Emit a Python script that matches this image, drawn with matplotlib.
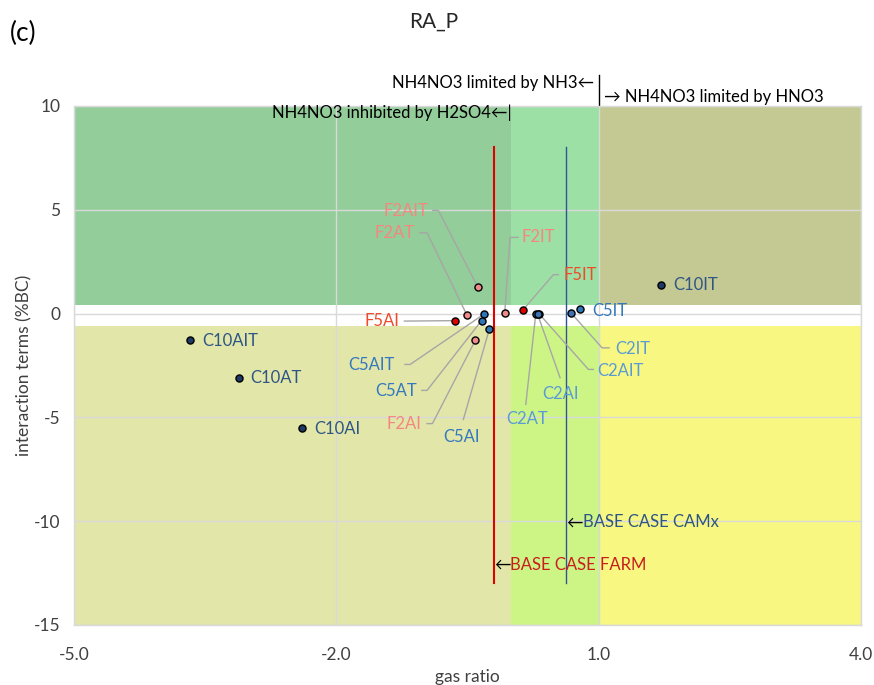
import matplotlib
matplotlib.use("Agg")
import matplotlib.pyplot as plt
from matplotlib.patches import Rectangle

plt.rcParams['font.family'] = ['Lato', 'DejaVu Sans']
plt.rcParams['axes.unicode_minus'] = False

# ---- data -------------------------------------------------------------
labels = ["C10AIT", "C10AT", "C10AI", "C10IT",
          "C5AIT", "C5AT", "C5AI", "C5IT",
          "C2AIT", "C2AT", "C2AI", "C2IT",
          "F2AIT", "F2AT", "F2AI", "F2IT",
          "F5AI", "F5IT"]
gas_ratio = [-3.67, -3.11, -2.39, 1.71,
             -0.31, -0.34, -0.25, 0.79,
             0.32, 0.28, 0.30, 0.68,
             -0.38, -0.51, -0.41, -0.075,
             -0.64, 0.13]
interaction = [-1.28, -3.08, -5.53, 1.39,
               -0.02, -0.34, -0.74, 0.20,
               -0.02, -0.02, -0.02, 0.05,
               1.26, -0.05, -1.28, 0.02,
               -0.34, 0.16]

base_farm = -0.2      # gas ratio of the FARM base case
base_camx = 0.63      # gas ratio of the CAMx base case
regime_edges = [0.0, 1.0]   # gas-ratio boundaries between regimes
band = [-0.6, 0.4]          # neutral band of interaction terms

x_ticks = [-5.0, -2.0, 1.0, 4.0]
y_ticks = [-15, -10, -5, 0, 5, 10]

# ---- styles -----------------------------------------------------------
group_style = {
    "C10": dict(face="#1F3864", text="#2E5584"),
    "C5": dict(face="#2E75B6", text="#3478BE"),
    "C2": dict(face="#3E72B0", text="#5B9BD5"),
    "F2": dict(face="#EE8A8A", text="#F4877F"),
    "F5": dict(face="#E00000", text="#EE4B2B"),
}

def group_of(name):
    return name[:3] if name.startswith("C10") else name[:2]

# label layout: text anchor (x, y), alignment, leader path before the point
label_layout = {
    "C10AIT": (-3.53, -1.33, "left", None),
    "C10AT": (-2.99, -3.12, "left", None),
    "C10AI": (-2.25, -5.54, "left", None),
    "C10IT": (1.85, 1.39, "left", None),
    "C5IT": (0.93, 0.11, "left", None),
    "F2AIT": (-0.95, 4.93, "right", [(-0.898, 4.97), (-0.834, 4.97)]),
    "F2AT": (-1.10, 3.87, "right", [(-1.043, 3.89), (-0.963, 3.89)]),
    "F2IT": (0.12, 3.67, "left", [(0.078, 3.67), (-0.014, 3.67)]),
    "F5IT": (0.596, 1.85, "left", [(0.539, 1.875), (0.482, 1.875)]),
    "F5AI": (-1.28, -0.38, "right", [(-1.222, -0.36), (-1.157, -0.36)]),
    "C5AIT": (-1.337, -2.49, "right", [(-1.215, -2.45), (-1.157, -2.45)]),
    "C5AT": (-1.074, -3.74, "right", [(-1.023, -3.70), (-0.963, -3.70)]),
    "F2AI": (-1.024, -5.30, "right", [(-0.963, -5.30), (-0.902, -5.30)]),
    "C5AI": (-0.566, -5.93, "center", [(-0.548, -5.10)]),
    "C2AT": (0.177, -5.06, "center", [(0.166, -4.375)]),
    "C2AI": (0.566, -3.85, "center", [(0.558, -3.09)]),
    "C2AIT": (0.985, -2.77, "left", [(0.939, -2.69), (0.882, -2.69)]),
    "C2IT": (1.187, -1.70, "left", [(1.118, -1.65), (1.038, -1.65)]),
}

region_colors = {
    ("top", 0): "#93CD9A", ("top", 1): "#9DE0A5", ("top", 2): "#C4C993",
    ("bottom", 0): "#E2E7A9", ("bottom", 1): "#CDF586", ("bottom", 2): "#F7F781",
}

LABEL_FS = 12

# ---- figure -----------------------------------------------------------
fig = plt.figure(figsize=(8.74, 6.85), dpi=100)
ax = fig.add_axes([0.0847, 0.0876, 0.9005, 0.7577])

xmin, xmax = x_ticks[0], x_ticks[-1]
ymin, ymax = y_ticks[0], y_ticks[-1]
ax.set_xlim(xmin, xmax)
ax.set_ylim(ymin, ymax)

# shaded regimes
xs = [xmin] + regime_edges + [xmax]
for i in range(3):
    ax.add_patch(Rectangle((xs[i], band[1]), xs[i + 1] - xs[i], ymax - band[1],
                           facecolor=region_colors[("top", i)], edgecolor="none", zorder=0.5))
    ax.add_patch(Rectangle((xs[i], ymin), xs[i + 1] - xs[i], band[0] - ymin,
                           facecolor=region_colors[("bottom", i)], edgecolor="none", zorder=0.5))

ax.set_xticks(x_ticks)
ax.set_xticklabels([f"{v:.1f}" for v in x_ticks])
ax.set_yticks(y_ticks)
ax.grid(True, color="#D9D9D9", linewidth=1.0)
ax.tick_params(length=0, labelsize=12.5, colors="#404040")
ax.tick_params(axis="x", pad=16)
ax.tick_params(axis="y", pad=10)
for s in ax.spines.values():
    s.set_color("#D9D9D9")
    s.set_linewidth(1.0)

ax.set_xlabel("gas ratio", fontsize=12.5, color="#404040", labelpad=4)
ax.set_ylabel("interaction terms (%BC)", fontsize=12.5, color="#404040", labelpad=1)

# base-case lines
ax.plot([base_farm, base_farm], [-13, 8], color="#E00000", lw=1.5, zorder=2)
ax.plot([base_camx, base_camx], [-13, 8], color="#2F5597", lw=1.0, zorder=2)

t_farm = ax.text(base_farm, -12.1, "←", ha="left", va="center", fontsize=LABEL_FS, color="black")
ax.annotate("BASE CASE FARM", xy=(1, 0.5), xycoords=t_farm, ha="left", va="center",
            fontsize=LABEL_FS, color="#C81E1E")
t_camx = ax.text(base_camx, -10.05, "←", ha="left", va="center", fontsize=LABEL_FS, color="black")
ax.annotate("BASE CASE CAMx", xy=(1, 0.5), xycoords=t_camx, ha="left", va="center",
            fontsize=LABEL_FS, color="#2E5584")

# leader lines and labels
for name, gx, gy in zip(labels, gas_ratio, interaction):
    st = group_style[group_of(name)]
    tx, ty, ha, path = label_layout[name]
    if path:
        px = [p[0] for p in path] + [gx]
        py = [p[1] for p in path] + [gy]
        ax.plot(px, py, color="#A6A6A6", lw=1.0, zorder=2.5)
    ax.text(tx, ty, name, ha=ha, va="center", fontsize=LABEL_FS, color=st["text"], zorder=4)

for name, gx, gy in zip(labels, gas_ratio, interaction):
    st = group_style[group_of(name)]
    ax.scatter([gx], [gy], s=26, facecolor=st["face"], edgecolor="black",
               linewidth=1.0, zorder=5)

# regime annotations above the plot
ax.text(0.947, 11.1, "NH4NO3 limited by NH3←", ha="right", va="center",
        fontsize=LABEL_FS, color="black", clip_on=False)
ax.plot([1.0, 1.0], [10.05, 11.5], color="black", lw=1.0, clip_on=False)
ax.text(1.06, 10.45, "→ NH4NO3 limited by HNO3", ha="left", va="center",
        fontsize=LABEL_FS, color="black", clip_on=False)
ax.text(0.0, 9.65, "NH4NO3 inhibited by H2SO4←|", ha="right", va="center",
        fontsize=LABEL_FS, color="black", clip_on=False)

fig.text(434 / 874, 1 - 22 / 685, "RA_P", ha="center", va="center", fontsize=15, color="#262626")
fig.text(10 / 874, 1 - 33 / 685, "(c)", ha="left", va="center", fontsize=19, color="black")

fig.savefig("out.png", dpi=100)
